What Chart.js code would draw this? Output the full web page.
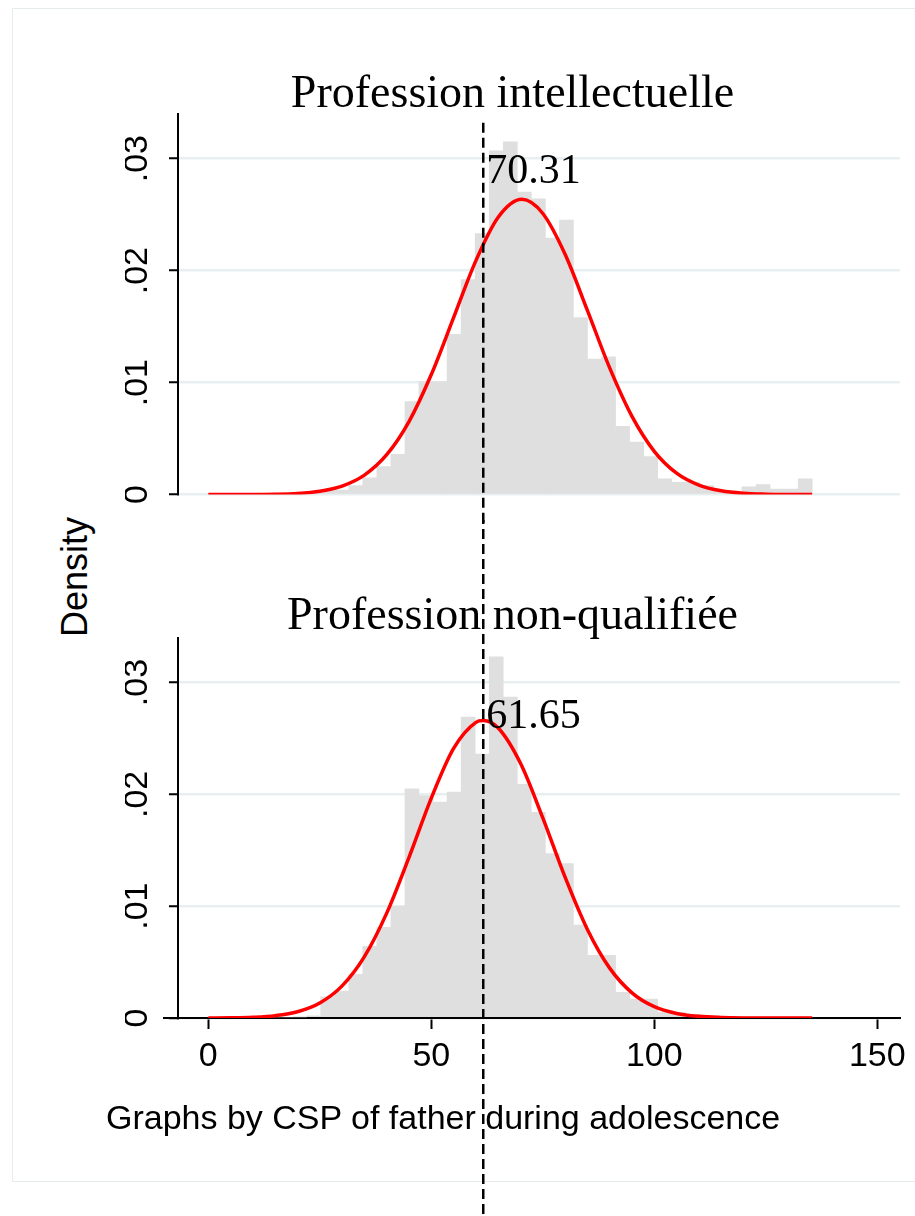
<!DOCTYPE html>
<html>
<head>
<meta charset="utf-8">
<title>CSP of father during adolescence</title>
<script src="https://cdn.jsdelivr.net/npm/chart.js@4.4.1/dist/chart.umd.min.js"></script>
<style>
  html, body { margin: 0; padding: 0; background: #fff; }
  body { width: 915px; height: 1216px; position: relative; overflow: hidden; }
  #frame { position: absolute; left: 12px; top: 8px; width: 920px; height: 1174px;
           border: 1.5px solid #e6ecee; box-sizing: border-box; }
  canvas { position: absolute; left: 110px; }
  #top-chart { top: 0; }
  #bottom-chart { top: 520px; }
  #ylabel { position: absolute; left: 75px; top: 577px; white-space: nowrap;
            transform: translate(-50%, -50%) rotate(-90deg);
            font: 36px 'Liberation Sans', Arial, sans-serif; color: #000; }
  #note { position: absolute; left: 106px; top: 1097px; white-space: nowrap;
          font: 34px 'Liberation Sans', Arial, sans-serif; line-height: 40px; color: #000; }
</style>
</head>
<body>
<div id="frame"></div>
<canvas id="top-chart" width="805" height="523"></canvas>
<canvas id="bottom-chart" width="805" height="696"></canvas>
<div id="ylabel">Density</div>
<div id="note">Graphs by CSP of father during adolescence</div>

<script>
// histogram bins (midpoints), shared by both panels
const BIN_MID = [
  1.57, 4.72, 7.87, 11.02, 14.17, 17.32, 20.47, 23.62, 26.77, 29.92,
  33.06, 36.21, 39.36, 42.51, 45.66, 48.81, 51.96, 55.11, 58.26, 61.41,
  64.56, 67.71, 70.86, 74.01, 77.15, 80.30, 83.45, 86.60, 89.75, 92.90,
  96.05, 99.20, 102.35, 105.50, 108.65, 111.80, 114.95, 118.10, 121.24, 124.39,
  127.54, 130.69, 133.84
]

// Profession intellectuelle
const TOP_TITLE = 'Profession intellectuelle'
const TOP_DENSITY = [
  0, 0, 0, 0, 0, 0, 0.0001, 0.0002, 0.0003, 0.0004,
  0.0008, 0.0015, 0.0025, 0.0036, 0.0083, 0.0101, 0.0101, 0.0143, 0.0192, 0.0233,
  0.0307, 0.0315, 0.0270, 0.0264, 0.0229, 0.0245, 0.0158, 0.0121, 0.0123, 0.0061,
  0.0047, 0.0034, 0.0014, 0.0011, 0.0011, 0.0008, 0.0003, 0.0002, 0.0007, 0.0009,
  0.0005, 0.0005, 0.0014
]
const TOP_CURVE_X = [0, 5, 10, 15, 20, 25, 30, 35, 40, 45, 50, 55, 60, 65, 70.31,
  75, 80, 85, 90, 95, 100, 105, 110, 115, 120, 125, 130, 135.4]
const TOP_CURVE_Y = [0, 0.000002, 0.00001, 0.00003, 0.0001, 0.0003, 0.00076, 0.00174,
  0.00356, 0.00652, 0.01072, 0.0158, 0.02089, 0.02476, 0.02636, 0.0251, 0.02146,
  0.01645, 0.01131, 0.00698, 0.00386, 0.00191, 0.00085, 0.00034, 0.00012, 0.00004,
  0.00001, 0]
const TOP_MEAN_LABEL = '70.31'

// Profession non-qualifiée
const BOTTOM_TITLE = 'Profession non-qualifiée'
const BOTTOM_DENSITY = [
  0, 0, 0, 0, 0, 0, 0.0001, 0.0002, 0.0019, 0.0024,
  0.0039, 0.0064, 0.0081, 0.0100, 0.0205, 0.0199, 0.0193, 0.0202, 0.0269, 0.0236,
  0.0323, 0.0287, 0.0209, 0.0184, 0.0147, 0.0138, 0.0083, 0.0056, 0.0056, 0.0023,
  0.0017, 0.0017, 0.0005, 0.0005, 0.0003, 0.0002, 0.0001, 0.0001, 0.0001, 0.0001,
  0.0001, 0.0001, 0.0001
]
const BOTTOM_CURVE_X = [0, 5, 10, 15, 20, 25, 30, 35, 40, 45, 50, 55, 60, 61.65,
  65, 70, 75, 80, 85, 90, 95, 100, 105, 110, 115, 120, 125, 130, 135.4]
const BOTTOM_CURVE_Y = [0.000006, 0.00002, 0.00007, 0.00021, 0.00056, 0.00134,
  0.00287, 0.00549, 0.00938, 0.01437, 0.01967, 0.02411, 0.02644, 0.0266, 0.02594,
  0.02278, 0.0179, 0.01259, 0.00792, 0.00446, 0.00225, 0.00101, 0.00041, 0.00015,
  0.00005, 0.00001, 0, 0, 0]
const BOTTOM_MEAN_LABEL = '61.65'

// reference line (x value) and axes
const MEAN_LINE = 61.65
const X_TICKS = [0, 50, 100, 150]
const Y_TICKS = [0, 0.01, 0.02, 0.03]
const Y_TICK_LABELS = ['0', '.01', '.02', '.03']

const SANS = "'Liberation Sans', Arial, sans-serif"
const SERIF = "'Liberation Serif', 'Times New Roman', serif"

// dashed xline + mean label, drawn over everything
const meanLine = {
  id: 'meanLine',
  afterDraw(chart, args, opts) {
    const { ctx, scales: { x, y } } = chart
    const px = x.getPixelForValue(MEAN_LINE)
    const top = opts.fromValue != null ? y.getPixelForValue(opts.fromValue) : 0
    ctx.save()
    // stata draws the x axis a little past the y axis
    if (x.options.display) {
      ctx.strokeStyle = '#000'
      ctx.lineWidth = 2
      ctx.beginPath()
      ctx.moveTo(chart.chartArea.left - 15, x.top)
      ctx.lineTo(chart.chartArea.left, x.top)
      ctx.stroke()
    }
    ctx.strokeStyle = '#000'
    ctx.lineWidth = 2.5
    ctx.setLineDash([10, 5])
    ctx.lineDashOffset = opts.dashOffset || 0
    ctx.beginPath()
    ctx.moveTo(px, top)
    ctx.lineTo(px, chart.height)
    ctx.stroke()
    ctx.setLineDash([])
    ctx.fillStyle = '#000'
    ctx.font = `42px ${SERIF}`
    ctx.textAlign = 'left'
    ctx.textBaseline = 'alphabetic'
    ctx.fillText(opts.label, px + 3, y.getPixelForValue(opts.labelY))
    ctx.restore()
  },
}

function makePanel(id, cfg) {
  const bars = BIN_MID.map((x, i) => ({ x, y: cfg.density[i] }))
  const curve = cfg.curveX.map((x, i) => ({ x, y: cfg.curveY[i] }))

  return new Chart(document.getElementById(id), {
    type: 'bar',
    data: {
      datasets: [
        {
          type: 'line',
          data: curve,
          borderColor: '#ff0000',
          borderWidth: 3.5,
          pointRadius: 0,
          cubicInterpolationMode: 'monotone',
          order: 0,
        },
        {
          type: 'bar',
          data: bars,
          backgroundColor: '#dfdfdf',
          borderWidth: 0,
          barPercentage: 1,
          categoryPercentage: 1,
          order: 1,
        },
      ],
    },
    options: {
      responsive: false,
      animation: false,
      events: [],
      layout: { padding: { left: 15, right: 15, top: 0, bottom: cfg.padBottom } },
      plugins: {
        legend: { display: false },
        tooltip: { enabled: false },
        title: {
          display: true,
          text: cfg.title,
          color: '#000',
          font: { family: SERIF, size: 46, weight: 'normal', lineHeight: 0.8 },
          padding: { top: cfg.titleTop, bottom: cfg.titleBottom },
        },
        meanLine: { label: cfg.label, labelY: cfg.labelY, fromValue: cfg.lineFrom, dashOffset: cfg.dashOffset },
      },
      scales: {
        x: {
          type: 'linear',
          min: -6.8,
          max: 155.1,
          offset: false,
          display: cfg.showX,
          afterBuildTicks: s => { s.ticks = X_TICKS.map(v => ({ value: v })) },
          afterFit: s => { if (cfg.showX) s.height = 60 },
          grid: { offset: false, drawOnChartArea: false, tickLength: 11, tickColor: '#000', tickWidth: 2 },
          border: { color: '#000', width: 2 },
          ticks: { color: '#000', font: { family: SANS, size: 34 }, padding: 7, maxRotation: 0, autoSkip: false },
        },
        y: {
          min: 0,
          max: 0.034,
          afterBuildTicks: s => { s.ticks = Y_TICKS.map(v => ({ value: v })) },
          afterFit: s => { s.width = 53 },
          grid: { color: '#e8eff1', lineWidth: 2.5, tickLength: 9, tickColor: '#000', tickWidth: 2 },
          border: { color: '#000', width: 2 },
          ticks: {
            color: '#000',
            font: { family: SANS, size: 34 },
            padding: 8,
            minRotation: 90,
            maxRotation: 90,
            crossAlign: 'center',
            callback: (v, i) => Y_TICK_LABELS[i],
          },
        },
      },
    },
    plugins: [meanLine],
  })
}

makePanel('top-chart', {
  title: TOP_TITLE, density: TOP_DENSITY, curveX: TOP_CURVE_X, curveY: TOP_CURVE_Y,
  label: TOP_MEAN_LABEL, labelY: 0.0278, lineFrom: 0.0332, dashOffset: 0,
  showX: false, padBottom: 23, titleTop: 77, titleBottom: 0,
})

makePanel('bottom-chart', {
  title: BOTTOM_TITLE, density: BOTTOM_DENSITY, curveX: BOTTOM_CURVE_X, curveY: BOTTOM_CURVE_Y,
  label: BOTTOM_MEAN_LABEL, labelY: 0.0259, lineFrom: null, dashOffset: 6,
  showX: true, padBottom: 138, titleTop: 79, titleBottom: 2,
})
</script>
</body>
</html>
